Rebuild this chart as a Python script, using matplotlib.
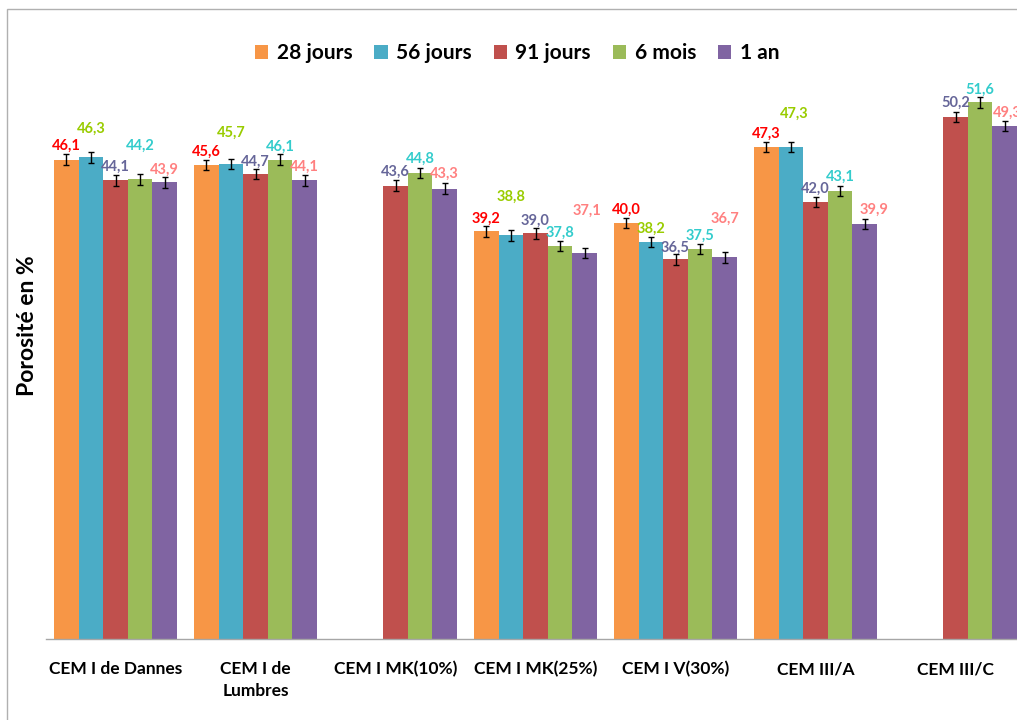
import numpy as np
import matplotlib.pyplot as plt
from matplotlib.patches import Rectangle, Patch

plt.rcParams['font.family'] = ['Lato', 'DejaVu Sans']
plt.rcParams['font.weight'] = 'bold'

# données
categories = ['CEM I de Dannes', 'CEM I de\nLumbres', 'CEM I MK(10%)', 'CEM I MK(25%)',
              'CEM I V(30%)', 'CEM III/A', 'CEM III/C']
series = ['28 jours', '56 jours', '91 jours', '6 mois', '1 an']
j28 = [46.1, 45.6, np.nan, 39.2, 40.0, 47.3, np.nan]
j56 = [46.3, 45.7, np.nan, 38.8, 38.2, 47.3, np.nan]
j91 = [44.1, 44.7, 43.6, 39.0, 36.5, 42.0, 50.2]
m6 = [44.2, 46.1, 44.8, 37.8, 37.5, 43.1, 51.6]
an1 = [43.9, 44.1, 43.3, 37.1, 36.7, 39.9, 49.3]
err = 0.5

# styles
bar_colors = ['#F79646', '#4BACC6', '#C0504D', '#9BBB59', '#8064A2']
label_colors = ['#FF0000', '#99CC00', '#666699', '#33CCCC', '#FF8080']
# décalage vertical des étiquettes (pixels au-dessus de la barre)
label_dy = [
    [14, 13, 0, 13, 13, 13, 0],
    [29, 31, 0, 39, 13, 33, 0],
    [14, 12, 14, 13, 12, 13, 14],
    [34, 13, 14, 13, 13, 14, 13],
    [13, 14, 15, 42, 39, 14, 13],
]
label_dx = [
    [0] * 7,
    [0, 0, 0, 0, 0, 3, 0],
    [0] * 7,
    [0] * 7,
    [0, 0, 0, 2, 0, 9, 3],
]

W, H = 1017, 720
fig = plt.figure(figsize=(W / 100, H / 100), dpi=100)
ax = fig.add_axes([45.5 / W, (H - 639) / H, 980 / W, 624 / H])

x = np.arange(len(categories))
w = 0.1757
data = [j28, j56, j91, m6, an1]
for k, vals in enumerate(data):
    vals = np.array(vals)
    pos = x + (k - 2) * w
    ax.bar(pos, vals, width=w, color=bar_colors[k], edgecolor='none',
           yerr=err, error_kw=dict(ecolor='black', elinewidth=1, capsize=2.2, capthick=1))
    for i, v in enumerate(vals):
        if np.isnan(v):
            continue
        ax.annotate(f'{v:.1f}'.replace('.', ','), (pos[i], v),
                    xytext=(label_dx[k][i], label_dy[k][i]), textcoords='offset pixels',
                    ha='center', va='center', color=label_colors[k],
                    fontsize=10.5, fontweight='bold', annotation_clip=False)

ax.set_xlim(-0.5, 6.5)
ax.set_ylim(0, 60)
ax.set_xticks(x)
ax.set_xticklabels(categories, fontsize=12.5, fontweight='bold', linespacing=1.45)
ax.tick_params(axis='x', length=0, pad=16)
ax.set_yticks([])
for s in ['top', 'right', 'left']:
    ax.spines[s].set_visible(False)
ax.spines['bottom'].set_color('#A6A6A6')
ax.spines['bottom'].set_linewidth(1)

fig.text(28 / W, 1 - 326 / H, 'Porosité en %', rotation=90, ha='center', va='center',
         fontsize=16.5, fontweight='bold')

handles = [Patch(facecolor=c, edgecolor='none') for c in bar_colors]
fig.legend(handles, series, loc='center', bbox_to_anchor=(517 / W, 1 - 53 / H), ncol=5,
           frameon=False, handlelength=0.65, handleheight=0.65,
           handletextpad=0.4, columnspacing=1.05, prop={'weight': 'bold', 'size': 15})

fig.patches.append(Rectangle((7 / W, -0.1), 1.2, 1 - 9 / H + 0.1, transform=fig.transFigure,
                             fill=False, edgecolor='#B0B0B0', linewidth=1))

fig.savefig('out.png', dpi=100)
